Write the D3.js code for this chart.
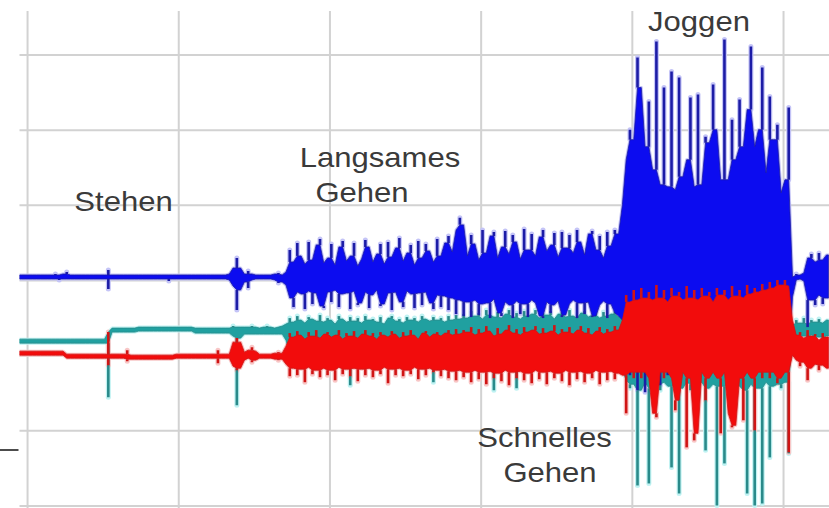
<!DOCTYPE html>
<html>
<head>
<meta charset="utf-8">
<script src="https://cdn.jsdelivr.net/npm/d3@7"></script>
<style>
  html, body { margin: 0; padding: 0; background: #fff; }
  svg { display: block; }
</style>
</head>
<body>
<svg id="chart" width="829" height="508"></svg>
<script>
// Accelerometer recording, three axes, reduced to min/max envelopes per 0.25 s bin.
const binSeconds = 0.25;

// Vertical axis (blue): bin maxima / minima, raw counts
const blueHi = [
  5,5,5,5,5,5,5,5,5,6,
  5,6,8,5,5,5,5,5,5,5,
  5,5,5,10,5,5,5,5,5,5,
  5,5,5,5,5,5,5,5,5,5,
  5,5,5,5,5,5,5,5,5,5,
  5,5,5,5,5,6,12,22,12,6,
  9,6,5,5,5,5,5,6,7,5,
  8,30,18,37,24,16,38,20,35,41,
  17,22,36,15,33,39,19,24,37,14,
  21,40,33,18,26,36,16,38,23,32,
  42,19,27,35,15,39,22,36,29,18,
  41,24,37,44,28,50,62,55,24,45,
  36,20,50,27,44,48,22,33,49,26,
  45,38,21,51,30,46,24,43,50,29,
  35,47,23,48,32,45,27,50,38,25,
  46,49,30,44,22,48,34,50,46,75,
  120,150,140,222,192,133,178,110,238,95,
  192,93,208,90,202,103,120,182,93,185,
  95,143,137,195,150,100,240,100,160,120,
  180,133,170,233,133,150,212,107,183,140,
  155,87,100,172,3,6,5,7,22,26,
  18,27,20,25
];
const blueLo = [
  1,1,1,1,1,1,1,1,1,1,
  0,1,1,1,1,1,1,1,1,1,
  1,1,1,-9,1,1,1,1,1,1,
  1,1,1,1,1,1,1,1,1,-1,
  1,1,1,1,1,1,1,1,1,1,
  1,1,1,1,1,0,-6,-30,-10,-2,
  -8,0,1,1,1,1,1,0,-3,-2,
  -5,-18,-27,-12,-14,-29,-11,-24,-13,-26,
  -28,-12,-22,-10,-27,-14,-13,-29,-11,-25,
  -23,-12,-28,-15,-10,-26,-24,-13,-30,-12,
  -22,-27,-11,-14,-28,-13,-25,-12,-23,-29,
  -15,-27,-16,-30,-18,-34,-20,-36,-22,-37,
  -20,-35,-24,-23,-38,-19,-33,-36,-22,-25,
  -38,-21,-34,-24,-37,-20,-23,-36,-38,-22,
  -33,-25,-21,-37,-35,-24,-20,-38,-23,-34,
  -22,-37,-36,-25,-21,-38,-24,-33,-36,-40,
  -70,-95,-85,-110,-90,-112,-88,-108,-92,-105,
  -85,-95,-80,-90,-82,-88,-80,-92,-84,-90,
  -80,-86,-82,-90,-84,-88,-80,-92,-84,-86,
  -80,-90,-82,-88,-84,-90,-80,-86,-82,-88,
  -80,-86,-90,-88,-17,0,1,-1,-47,-20,
  -25,-15,-24,-18
];

// Lateral axis (teal)
const tealHi = [
  -59,-59,-59,-59,-59,-59,-59,-59,-59,-59,
  -59,-59,-59,-59,-59,-59,-59,-59,-59,-59,
  -59,-59,-59,-52,-48,-48,-48,-48,-48,-48,
  -48,-47,-47,-47,-47,-47,-47,-47,-47,-47,
  -47,-47,-47,-47,-47,-47,-48,-48,-48,-48,
  -48,-48,-48,-48,-48,-48,-46,-47,-47,-47,
  -47,-46,-47,-48,-47,-46,-47,-48,-47,-46,
  -44,-38,-42,-36,-40,-43,-37,-39,-41,-35,
  -42,-38,-40,-44,-36,-39,-42,-37,-41,-38,
  -43,-36,-40,-39,-42,-37,-44,-38,-36,-41,
  -39,-43,-37,-40,-38,-42,-36,-39,-41,-37,
  -40,-38,-42,-36,-40,-35,-39,-34,-38,-31,
  -36,-33,-39,-30,-35,-37,-32,-38,-34,-30,
  -37,-33,-39,-31,-36,-34,-30,-38,-33,-35,
  -31,-39,-34,-32,-37,-30,-36,-38,-33,-31,
  -37,-35,-30,-38,-32,-36,-34,-31,-37,-30,
  -30,-30,-30,-30,-30,-30,-30,-30,-30,-30,
  -30,-30,-30,-30,-30,-30,-30,-30,-30,-30,
  -30,-30,-30,-30,-30,-30,-30,-30,-30,-30,
  -30,-30,-30,-30,-30,-30,-30,-30,-30,-30,
  -30,-30,-30,-30,-45,-40,-43,-38,-44,-40,
  -42,-39,-43,-40
];
const tealLo = [
  -63,-63,-63,-63,-63,-63,-63,-63,-63,-63,
  -63,-63,-63,-63,-63,-63,-63,-63,-63,-63,
  -63,-63,-63,-117,-52,-52,-52,-52,-52,-52,
  -52,-51,-51,-51,-51,-51,-51,-51,-51,-51,
  -51,-51,-51,-51,-51,-51,-53,-53,-53,-53,
  -53,-53,-53,-53,-53,-53,-56,-125,-58,-54,
  -54,-54,-54,-54,-54,-54,-54,-54,-54,-54,
  -60,-74,-80,-72,-78,-74,-82,-72,-80,-75,
  -78,-73,-81,-74,-79,-72,-80,-105,-78,-74,
  -80,-72,-79,-75,-81,-73,-78,-74,-82,-72,
  -79,-75,-80,-73,-78,-74,-81,-72,-79,-102,
  -80,-74,-82,-75,-80,-76,-84,-75,-82,-78,
  -84,-76,-82,-78,-85,-110,-80,-77,-84,-76,
  -82,-108,-84,-78,-83,-76,-85,-78,-82,-77,
  -84,-78,-83,-76,-85,-77,-82,-78,-84,-76,
  -83,-78,-85,-77,-82,-78,-84,-76,-82,-90,
  -100,-108,-104,-205,-110,-102,-203,-108,-104,-110,
  -102,-106,-187,-104,-213,-108,-102,-110,-104,-106,
  -102,-170,-108,-104,-225,-106,-183,-104,-110,-102,
  -106,-110,-213,-104,-225,-108,-223,-102,-177,-106,
  -104,-108,-102,-173,-58,-55,-60,-56,-62,-55,
  -60,-57,-61,-56
];

// Forward axis (red)
const redHi = [
  -71,-71,-71,-71,-71,-71,-71,-71,-71,-71,
  -71,-71,-74,-74,-74,-74,-74,-74,-74,-74,
  -74,-74,-74,-52,-74,-74,-74,-74,-70,-75,
  -75,-75,-75,-75,-75,-75,-75,-75,-75,-75,
  -75,-74,-74,-74,-74,-74,-74,-74,-74,-74,
  -74,-74,-70,-74,-74,-74,-62,-58,-62,-72,
  -70,-67,-71,-74,-74,-74,-74,-73,-72,-73,
  -66,-53,-57,-51,-55,-59,-52,-56,-50,-58,
  -54,-52,-57,-55,-50,-59,-53,-56,-51,-58,
  -54,-50,-56,-53,-59,-52,-55,-57,-51,-54,
  -58,-52,-56,-50,-55,-59,-53,-51,-57,-54,
  -52,-56,-53,-50,-55,-49,-54,-50,-52,-47,
  -55,-49,-53,-46,-51,-56,-48,-54,-50,-45,
  -53,-49,-55,-47,-52,-50,-46,-54,-48,-53,
  -51,-45,-55,-49,-52,-47,-54,-50,-46,-53,
  -48,-55,-51,-47,-54,-49,-52,-46,-50,-40,
  -15,-22,-10,-20,-8,-18,-12,-20,-5,-18,
  -10,-22,-8,-16,-12,-20,-6,-18,-10,-20,
  -8,-16,-12,-22,-8,-15,-10,-20,-6,-16,
  -10,-18,-5,-14,-8,-12,-4,-10,-2,-8,
  0,-5,0,-6,-40,-55,-52,-58,-50,-56,
  -54,-60,-53,-57
];
const redLo = [
  -75,-75,-75,-75,-75,-75,-75,-75,-75,-75,
  -75,-75,-78,-78,-78,-78,-78,-78,-78,-78,
  -78,-78,-78,-85,-78,-78,-78,-78,-81,-79,
  -79,-79,-79,-79,-79,-79,-79,-79,-79,-79,
  -79,-78,-78,-78,-78,-78,-78,-78,-78,-78,
  -78,-78,-83,-78,-78,-78,-86,-90,-88,-80,
  -78,-82,-80,-78,-78,-78,-78,-79,-80,-79,
  -84,-96,-88,-95,-89,-102,-87,-94,-90,-97,
  -88,-95,-90,-100,-87,-94,-89,-96,-88,-101,
  -89,-95,-88,-97,-90,-94,-87,-103,-89,-95,
  -88,-96,-90,-94,-87,-99,-89,-95,-88,-92,
  -90,-96,-89,-98,-91,-100,-90,-97,-92,-102,
  -90,-99,-92,-104,-91,-98,-93,-101,-90,-105,
  -92,-98,-91,-100,-93,-103,-90,-99,-92,-104,
  -91,-98,-93,-101,-90,-105,-92,-99,-91,-102,
  -93,-98,-90,-104,-92,-100,-91,-99,-93,-95,
  -133,-92,-98,-92,-98,-92,-98,-133,-137,-92,
  -98,-92,-98,-130,-120,-92,-167,-98,-160,-153,
  -92,-120,-98,-92,-98,-153,-92,-133,-147,-145,
  -98,-140,-92,-98,-150,-92,-98,-92,-98,-92,
  -103,-98,-92,-172,-75,-80,-86,-82,-100,-88,
  -84,-90,-85,-88
];

// Grid positions (seconds / counts)
const gridTimes = [0.5, 10.5, 20.5, 30.5, 40.5, 50.5];
const gridLevels = [-225, -150, -75, 0, 75, 150, 225];

// Activity phase annotations
const phaseLabels = [
  ["Stehen"],
  ["Langsames", "Gehen"],
  ["Schnelles", "Gehen"],
  ["Joggen"]
];

// ---------- layout ----------
const plotLeft = 19.5, plotRight = 829, plotTop = 10, plotBottom = 508;
const labelAnchors = [
  [[123.5, 211]],
  [[380, 167], [362, 202]],
  [[544.5, 447], [550, 482]],
  [[699, 31]]
];

const svg = d3.select("#chart");

const x = d3.scaleLinear().domain([0, 53.5]).range([plotLeft, 828.4]);
const y = d3.scaleLinear().domain([-227.5, 269.4]).range([plotBottom, plotTop]);

// gridlines via axes
const gridColor = "#d2d2d2";
const vGrid = svg.append("g")
  .attr("transform", `translate(0,${plotBottom})`)
  .call(d3.axisBottom(x).tickValues(gridTimes).tickSize(-(plotBottom - plotTop - 1)).tickFormat(""));
const hGrid = svg.append("g")
  .attr("transform", `translate(${plotLeft},0)`)
  .call(d3.axisLeft(y).tickValues(gridLevels).tickSize(-(plotRight - plotLeft)).tickFormat(""));
[vGrid, hGrid].forEach(g => {
  g.select(".domain").remove();
  g.selectAll(".tick line").attr("stroke", gridColor).attr("stroke-width", 2);
});

// short axis stub at the left edge
svg.append("line")
  .attr("x1", 0).attr("x2", 18.5)
  .attr("y1", 450).attr("y2", 450)
  .attr("stroke", "#111").attr("stroke-width", 1.5);

// clip for the signal traces
svg.append("defs").append("clipPath").attr("id", "plotClip")
  .append("rect")
  .attr("x", plotLeft).attr("y", plotTop)
  .attr("width", plotRight - plotLeft).attr("height", plotBottom - plotTop);

// Each bin is drawn as a solid body plus thin peaks: a bin that stands out
// beyond both neighbours gets a peak from the higher neighbour's level.
function buildTrace(hi, lo) {
  const n = hi.length;
  const bins = hi.map((h, i) => {
    const a = Math.max(0, i - 1), b = Math.min(n - 1, i + 1);
    const coreHi = Math.min(h, Math.max(hi[a], hi[b]));
    const coreLo = Math.max(lo[i], Math.min(lo[a], lo[b]));
    return { t: (i + 0.5) * binSeconds, hi: h, lo: lo[i], coreHi, coreLo };
  });
  const body = [{ ...bins[0], t: 0 }, ...bins, { ...bins[n - 1], t: n * binSeconds }];
  const peaks = [];
  bins.forEach(d => {
    if (d.hi > d.coreHi) peaks.push({ t: d.t, a: d.coreHi, b: d.hi });
    if (d.lo < d.coreLo) peaks.push({ t: d.t, a: d.coreLo, b: d.lo });
  });
  return { body, peaks };
}

const bodyArea = d3.area()
  .x(d => x(d.t))
  .y0(d => y(d.coreLo))
  .y1(d => y(d.coreHi))
  .curve(d3.curveLinear);

const series = [
  { name: "lateral",  hi: tealHi, lo: tealLo, fill: "#20a0a0", peak: "#2a8a8a", halo: "#bff2f2" },
  { name: "vertical", hi: blueHi, lo: blueLo, fill: "#0c0cf0", peak: "#1c1ca6", halo: "#c4c4f7" },
  { name: "forward",  hi: redHi,  lo: redLo,  fill: "#f20c0c", peak: "#d01414", halo: "#f8c6c6" }
];
series.forEach(s => Object.assign(s, buildTrace(s.hi, s.lo)));

const traces = svg.append("g").attr("clip-path", "url(#plotClip)");

// soft fringe behind every trace
series.forEach(s => {
  const g = traces.append("g").attr("class", `halo ${s.name}`);
  g.append("path")
    .attr("d", bodyArea(s.body))
    .attr("fill", s.halo)
    .attr("stroke", s.halo)
    .attr("stroke-width", 3)
    .attr("stroke-linejoin", "round");
  g.selectAll("line")
    .data(s.peaks)
    .join("line")
    .attr("x1", d => x(d.t)).attr("x2", d => x(d.t))
    .attr("y1", d => y(d.a)).attr("y2", d => y(d.b))
    .attr("stroke", s.halo)
    .attr("stroke-width", 5)
    .attr("stroke-linecap", "round");
});

series.forEach(s => {
  const g = traces.append("g").attr("class", `trace ${s.name}`);
  g.append("path")
    .attr("d", bodyArea(s.body))
    .attr("fill", s.fill)
    .attr("stroke", s.peak)
    .attr("stroke-width", 0.8);
  g.selectAll("line")
    .data(s.peaks)
    .join("line")
    .attr("x1", d => x(d.t)).attr("x2", d => x(d.t))
    .attr("y1", d => y(d.a)).attr("y2", d => y(d.b))
    .attr("stroke", s.peak)
    .attr("stroke-width", 2.6);
});

// phase annotations
const labelGroup = svg.append("g")
  .attr("font-family", "'Liberation Sans', Arial, sans-serif")
  .attr("font-size", 27)
  .attr("fill", "#3a3a3a")
  .attr("text-anchor", "middle");

phaseLabels.forEach((lines, i) => {
  lines.forEach((txt, j) => {
    const [cx, cy] = labelAnchors[i][j];
    labelGroup.append("text")
      .attr("transform", `translate(${cx},${cy}) scale(1.15,1)`)
      .text(txt);
  });
});
</script>
</body>
</html>
